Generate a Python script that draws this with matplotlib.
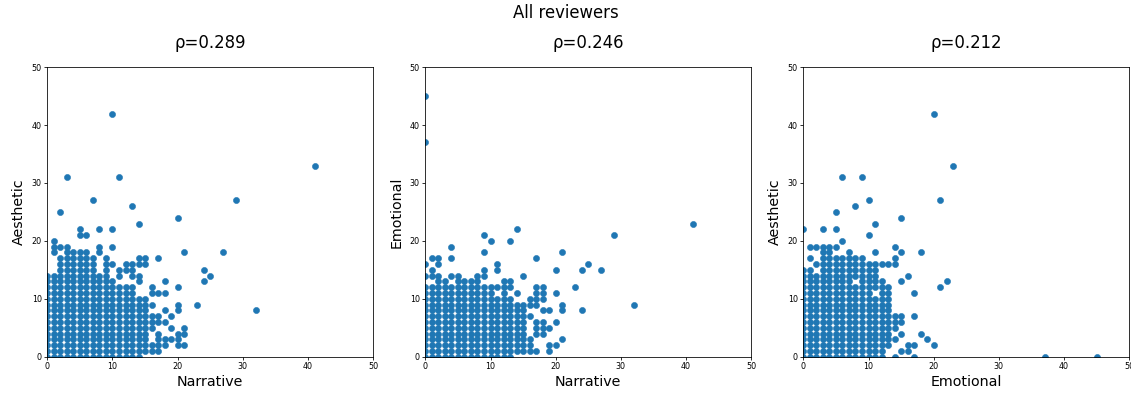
import matplotlib
matplotlib.use("Agg")
import matplotlib.pyplot as plt


def span(lo, hi):
    return list(range(lo, hi + 1))


# per-reviewer scores, grouped as {x value: [y values]}
aesthetic_vs_narrative = {
    0: span(0, 14),
    1: span(0, 14) + [18, 19, 20],
    2: span(0, 17) + [19, 25],
    3: span(0, 19) + [31],
    4: span(0, 18),
    5: span(0, 18) + [21, 22],
    6: span(0, 18) + [21],
    7: span(0, 17) + [27],
    8: span(0, 14) + [18, 19, 22],
    9: span(0, 17),
    10: span(0, 13) + [16, 19, 22, 42],
    11: span(0, 12) + [14, 15, 31],
    12: span(0, 12) + [15, 16],
    13: span(0, 12) + [14, 15, 16, 26],
    14: span(0, 10) + [13, 14, 16, 17, 23],
    15: span(1, 10) + [16, 17],
    16: [1, 2, 5, 6, 7, 9, 11, 12],
    17: [1, 2, 3, 4, 6, 7, 11, 17],
    18: [2, 3, 6, 8, 11, 13],
    19: [3, 5, 7],
    20: [2, 3, 4, 8, 9, 12, 24],
    21: [2, 4, 5, 18],
    23: [9],
    24: [13, 15],
    25: [14],
    27: [18],
    29: [27],
    32: [8],
    41: [33],
}

emotional_vs_narrative = {
    0: span(0, 12) + [14, 16, 37, 45],
    1: span(0, 12) + [14, 15, 17],
    2: span(0, 14) + [16, 17],
    3: span(0, 13),
    4: span(0, 12) + [14, 17, 19],
    5: span(0, 14),
    6: span(0, 13),
    7: span(0, 13),
    8: span(0, 14),
    9: span(0, 12) + [14, 15, 18, 21],
    10: span(0, 12) + [20],
    11: span(0, 10) + [12, 15, 16],
    12: span(0, 13),
    13: span(0, 10) + [12, 13, 20],
    14: span(1, 9) + [11, 22],
    15: span(1, 9) + [14],
    16: [1, 2, 3, 7, 9, 10],
    17: [1, 4, 5, 6, 9, 10, 11, 12, 17],
    18: [4, 5, 6, 8, 10, 11, 12],
    19: [1, 2, 5, 8],
    20: [2, 6, 11, 15],
    21: [3, 8, 9, 18],
    23: [12],
    24: [8, 15],
    25: [16],
    27: [15],
    29: [21],
    32: [9],
    41: [23],
}

aesthetic_vs_emotional = {
    0: span(0, 15) + [22],
    1: span(0, 15) + [17, 19],
    2: span(0, 14) + [16, 19],
    3: span(0, 19) + [22],
    4: span(0, 19),
    5: span(0, 17) + [19, 22, 25],
    6: span(0, 17) + [20, 31],
    7: span(0, 18),
    8: span(0, 12) + span(14, 17) + [26],
    9: span(0, 17) + [31],
    10: span(0, 16) + [21, 27],
    11: span(0, 10) + span(12, 16) + [18, 23],
    12: span(0, 13) + [16],
    13: span(2, 12) + [16],
    14: [0, 3, 5, 6, 7, 16, 17, 19],
    15: [1, 4, 6, 7, 13, 18, 24],
    16: [1, 2, 14],
    17: [0, 2, 7, 11],
    18: [4, 18],
    19: [3],
    20: [2, 42],
    21: [12, 27],
    22: [13],
    23: [33],
    37: [0],
    45: [0],
}

panels = [
    (aesthetic_vs_narrative, "Narrative", "Aesthetic", "ρ=0.289"),
    (emotional_vs_narrative, "Narrative", "Emotional", "ρ=0.246"),
    (aesthetic_vs_emotional, "Emotional", "Aesthetic", "ρ=0.212"),
]

fig = plt.figure(figsize=(1131 / 72, 396 / 72), dpi=72)
fig.suptitle("All reviewers", fontsize=16.5, y=0.99)

lefts = [47.3, 425.3, 803.3]
for left, (scores, xlabel, ylabel, title) in zip(lefts, panels):
    ax = fig.add_axes([left / 1131, 39.3 / 396, 326 / 1131, 289.5 / 396])
    xs = [x for x, ys in scores.items() for _ in ys]
    ys = [y for col in scores.values() for y in col]
    ax.scatter(xs, ys, s=38, color="#1f77b4", linewidths=0.5)
    ax.set_xlim(0, 50)
    ax.set_ylim(0, 50)
    ax.set_xticks([0, 10, 20, 30, 40, 50])
    ax.set_yticks([0, 10, 20, 30, 40, 50])
    ax.tick_params(labelsize=8, length=3, pad=2.5)
    ax.set_xlabel(xlabel, fontsize=14.3, labelpad=4)
    ax.set_ylabel(ylabel, fontsize=14.3, labelpad=6)
    ax.set_title(title, fontsize=16.5, pad=19)

fig.savefig("out.png", dpi=72)
